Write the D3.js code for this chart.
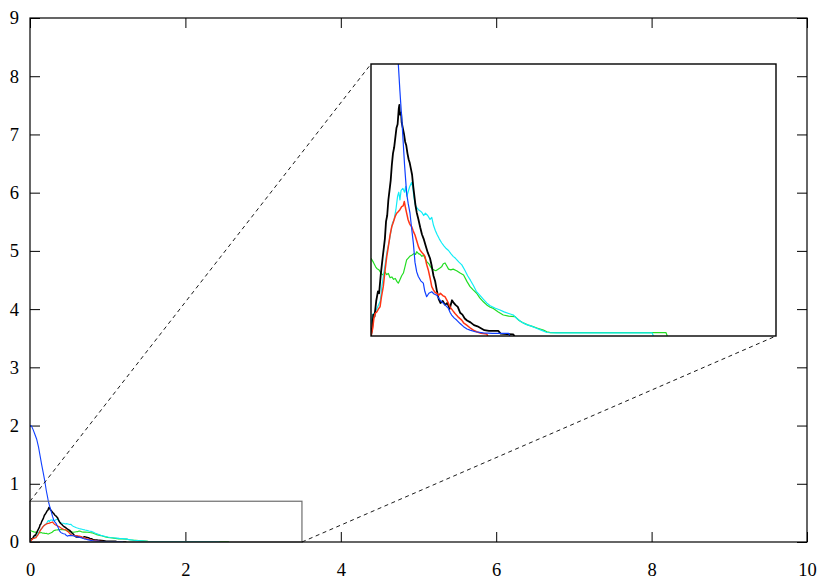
<!DOCTYPE html>
<html>
<head>
<meta charset="utf-8">
<script src="https://cdn.jsdelivr.net/npm/d3@7/dist/d3.min.js"></script>
<style>
  html, body { margin: 0; padding: 0; background: #fff; }
  svg { display: block; }
  .tick text { font-family: "Liberation Serif", "DejaVu Serif", serif; font-size: 18.5px; fill: #000; }
</style>
</head>
<body>
<svg id="chart" width="820" height="580"></svg>
<script>
// Axis tick values
const xTicks = [0, 2, 4, 6, 8, 10];
const yTicks = [0, 1, 2, 3, 4, 5, 6, 7, 8, 9];

// Zoomed window (data units) shown in the inset
const zoomX = [0, 3.5];
const zoomY = [0, 0.7];

// Series: [x, y] samples
const blueSeries = [
  [0,2.0],[0.02,1.99],[0.04,1.93],[0.06,1.86],[0.085,1.77],[0.11,1.63],[0.13,1.48],[0.15,1.33],
  [0.17,1.19],[0.19,1.05],[0.21,0.88],[0.225,0.78],[0.236,0.70],[0.25,0.63],[0.27,0.54],[0.29,0.44],
  [0.308,0.367],[0.322,0.34],[0.337,0.316],[0.35,0.28],[0.366,0.239],[0.38,0.19],[0.395,0.165],
  [0.409,0.153],[0.43,0.142],[0.452,0.136],[0.465,0.115],[0.481,0.101],[0.5,0.11],[0.525,0.114],
  [0.545,0.108],[0.568,0.105],[0.59,0.095],[0.611,0.088],[0.64,0.08],[0.669,0.071],[0.685,0.06],
  [0.697,0.054],[0.72,0.046],[0.74,0.041],[0.77,0.032],[0.8,0.024],[0.83,0.018],[0.856,0.015],
  [0.9,0.011],[0.97,0.008],[1.05,0.007],[1.19,0.007],[1.2,0]
];
const blackSeries = [
  [0,0],[0.01,0.02],[0.02,0.055],[0.03,0.05],[0.045,0.09],[0.06,0.115],[0.07,0.11],[0.085,0.16],
  [0.1,0.2],[0.11,0.225],[0.12,0.25],[0.13,0.295],[0.14,0.31],[0.15,0.35],[0.16,0.375],[0.17,0.40],
  [0.18,0.44],[0.19,0.47],[0.2,0.485],[0.21,0.51],[0.22,0.535],[0.23,0.545],[0.24,0.585],[0.245,0.595],
  [0.25,0.57],[0.26,0.575],[0.265,0.55],[0.275,0.535],[0.285,0.52],[0.295,0.5],[0.305,0.49],
  [0.315,0.47],[0.325,0.455],[0.335,0.445],[0.345,0.43],[0.355,0.415],[0.365,0.385],[0.375,0.36],
  [0.385,0.335],[0.395,0.318],[0.41,0.30],[0.425,0.28],[0.44,0.262],[0.455,0.25],[0.47,0.235],
  [0.49,0.215],[0.51,0.2],[0.525,0.18],[0.54,0.155],[0.555,0.14],[0.57,0.115],[0.585,0.095],
  [0.6,0.085],[0.62,0.09],[0.64,0.08],[0.66,0.085],[0.68,0.07],[0.70,0.092],[0.715,0.085],
  [0.73,0.08],[0.75,0.075],[0.77,0.06],[0.79,0.055],[0.81,0.045],[0.83,0.04],[0.86,0.035],
  [0.89,0.028],[0.92,0.025],[0.95,0.02],[0.98,0.015],[1.02,0.013],[1.1,0.013],[1.12,0.006],
  [1.23,0.004],[1.24,0]
];
const cyanSeries = [
  [0,0.03],[0.01,0.05],[0.02,0.058],[0.035,0.06],[0.05,0.07],[0.065,0.08],[0.08,0.09],[0.095,0.13],
  [0.11,0.16],[0.125,0.19],[0.14,0.22],[0.155,0.24],[0.17,0.265],[0.185,0.29],[0.2,0.30],[0.215,0.325],
  [0.23,0.36],[0.24,0.37],[0.25,0.35],[0.26,0.375],[0.275,0.38],[0.29,0.37],[0.3,0.385],[0.31,0.36],
  [0.32,0.37],[0.335,0.385],[0.35,0.395],[0.36,0.385],[0.37,0.36],[0.38,0.34],[0.395,0.33],
  [0.41,0.325],[0.425,0.322],[0.44,0.318],[0.455,0.31],[0.47,0.316],[0.49,0.31],[0.51,0.30],
  [0.525,0.305],[0.54,0.285],[0.555,0.272],[0.57,0.262],[0.59,0.25],[0.61,0.24],[0.63,0.232],
  [0.65,0.225],[0.67,0.22],[0.69,0.212],[0.71,0.205],[0.73,0.2],[0.76,0.19],[0.785,0.183],
  [0.81,0.17],[0.835,0.155],[0.86,0.143],[0.885,0.13],[0.91,0.115],[0.94,0.105],[0.97,0.095],
  [1.0,0.085],[1.03,0.078],[1.07,0.072],[1.115,0.067],[1.15,0.062],[1.19,0.058],[1.23,0.054],
  [1.26,0.045],[1.3,0.036],[1.34,0.03],[1.38,0.026],[1.43,0.02],[1.47,0.015],[1.52,0.009],
  [1.6,0.008],[2.43,0.008],[2.44,0]
];
const greenSeries = [
  [0,0.2],[0.02,0.19],[0.04,0.178],[0.05,0.174],[0.07,0.17],[0.09,0.16],[0.105,0.157],[0.12,0.165],
  [0.135,0.158],[0.15,0.161],[0.165,0.15],[0.18,0.152],[0.195,0.146],[0.21,0.148],[0.225,0.14],
  [0.236,0.136],[0.25,0.145],[0.265,0.155],[0.28,0.162],[0.295,0.18],[0.308,0.196],[0.32,0.2],
  [0.335,0.205],[0.352,0.208],[0.37,0.212],[0.385,0.21],[0.395,0.217],[0.41,0.212],[0.425,0.21],
  [0.44,0.205],[0.455,0.208],[0.47,0.198],[0.485,0.19],[0.5,0.186],[0.515,0.178],[0.53,0.172],
  [0.545,0.17],[0.56,0.168],[0.58,0.172],[0.596,0.175],[0.61,0.178],[0.625,0.186],[0.64,0.188],
  [0.655,0.18],[0.67,0.172],[0.69,0.17],[0.71,0.172],[0.74,0.168],[0.77,0.162],[0.8,0.157],
  [0.83,0.14],[0.856,0.127],[0.885,0.118],[0.913,0.11],[0.94,0.098],[0.971,0.088],[1.0,0.08],
  [1.03,0.074],[1.057,0.071],[1.1,0.062],[1.143,0.054],[1.19,0.051],[1.245,0.05],[1.28,0.04],
  [1.32,0.033],[1.36,0.028],[1.40,0.024],[1.44,0.02],[1.49,0.015],[1.52,0.011],[1.55,0.0085],
  [2.55,0.0085],[2.56,0]
];
const redSeries = [
  [0,0],[0.015,0.02],[0.025,0.045],[0.035,0.058],[0.05,0.062],[0.065,0.07],[0.078,0.075],[0.09,0.1],
  [0.106,0.127],[0.12,0.165],[0.136,0.204],[0.15,0.23],[0.165,0.26],[0.179,0.281],[0.19,0.29],
  [0.2,0.30],[0.212,0.31],[0.222,0.316],[0.235,0.32],[0.25,0.325],[0.265,0.333],[0.278,0.335],
  [0.288,0.346],[0.298,0.33],[0.308,0.316],[0.32,0.3],[0.332,0.29],[0.342,0.285],[0.352,0.281],
  [0.365,0.27],[0.38,0.26],[0.395,0.245],[0.41,0.23],[0.424,0.221],[0.44,0.215],[0.455,0.21],
  [0.467,0.204],[0.48,0.185],[0.495,0.17],[0.51,0.15],[0.525,0.127],[0.54,0.118],[0.555,0.112],
  [0.568,0.11],[0.585,0.105],[0.6,0.11],[0.62,0.104],[0.64,0.101],[0.66,0.09],[0.683,0.075],
  [0.705,0.066],[0.726,0.058],[0.75,0.05],[0.784,0.041],[0.8,0.034],[0.827,0.028],[0.86,0.02],
  [0.89,0.014],[0.913,0.011],[0.95,0.007],[1.0,0.005],[1.01,0]
];

const seriesList = [
  { name: "green", data: greenSeries, color: "#22dd22", width: 1.1 },
  { name: "cyan",  data: cyanSeries,  color: "#10ecf6", width: 1.1 },
  { name: "black", data: blackSeries, color: "#000000", width: 1.5 },
  { name: "red",   data: redSeries,   color: "#ff3414", width: 1.2 },
  { name: "blue",  data: blueSeries,  color: "#1040ff", width: 1.1 }
];

const svg = d3.select("#chart");

// Main plot area
const plot = { left: 30, right: 807, top: 18, bottom: 542 };
const x = d3.scaleLinear().domain([0, 10]).range([plot.left, plot.right]);
const y = d3.scaleLinear().domain([0, 9]).range([plot.bottom, plot.top]);

// Inset area
const inset = { left: 371, right: 776, top: 64, bottom: 336 };
const xi = d3.scaleLinear().domain(zoomX).range([inset.left, inset.right]);
const yi = d3.scaleLinear().domain(zoomY).range([inset.bottom, inset.top]);

const defs = svg.append("defs");
defs.append("clipPath").attr("id", "clip-main").append("rect")
  .attr("x", plot.left).attr("y", plot.top)
  .attr("width", plot.right - plot.left).attr("height", plot.bottom - plot.top);
defs.append("clipPath").attr("id", "clip-inset").append("rect")
  .attr("x", inset.left).attr("y", inset.top)
  .attr("width", inset.right - inset.left).attr("height", inset.bottom - inset.top);

// Inward ticks on all four sides
function styleAxis(g) {
  g.select(".domain").remove();
  g.selectAll(".tick line").attr("stroke", "#000").attr("stroke-width", 1);
}
svg.append("g").attr("transform", `translate(0,${plot.bottom})`)
  .call(d3.axisBottom(x).tickValues(xTicks).tickSizeInner(-10).tickSizeOuter(0).tickPadding(21).tickFormat(d3.format("d")))
  .call(styleAxis);
svg.append("g").attr("transform", `translate(0,${plot.top})`)
  .call(d3.axisTop(x).tickValues(xTicks).tickSizeInner(-10).tickSizeOuter(0).tickFormat(""))
  .call(styleAxis);
svg.append("g").attr("transform", `translate(${plot.left},0)`)
  .call(d3.axisLeft(y).tickValues(yTicks).tickSizeInner(-10).tickSizeOuter(0).tickPadding(11).tickFormat(d3.format("d")))
  .call(styleAxis);
svg.append("g").attr("transform", `translate(${plot.right},0)`)
  .call(d3.axisRight(y).tickValues(yTicks).tickSizeInner(-10).tickSizeOuter(0).tickFormat(""))
  .call(styleAxis);

// Curves in the main plot
const lineMain = d3.line().x(d => x(d[0])).y(d => y(d[1]));
const gMain = svg.append("g").attr("clip-path", "url(#clip-main)");
seriesList.forEach(s => {
  gMain.append("path").datum(s.data)
    .attr("d", lineMain)
    .attr("fill", "none")
    .attr("stroke", s.color)
    .attr("stroke-width", s.width)
    .attr("stroke-linejoin", "round");
});

// Zoom window outline in the main plot
svg.append("rect")
  .attr("x", x(zoomX[0])).attr("y", y(zoomY[1]))
  .attr("width", x(zoomX[1]) - x(zoomX[0]))
  .attr("height", y(zoomY[0]) - y(zoomY[1]))
  .attr("fill", "none").attr("stroke", "#6e6e6e").attr("stroke-width", 1.2);

// Connector lines from the zoom window to the inset
const connectors = [
  [[x(zoomX[0]), y(zoomY[1])], [inset.left, inset.top]],
  [[x(zoomX[1]), y(zoomY[0])], [inset.right, inset.bottom]]
];
svg.selectAll("line.connector").data(connectors).enter().append("line")
  .attr("class", "connector")
  .attr("x1", d => d[0][0]).attr("y1", d => d[0][1])
  .attr("x2", d => d[1][0]).attr("y2", d => d[1][1])
  .attr("stroke", "#000").attr("stroke-width", 0.9)
  .attr("stroke-dasharray", "4,3.5");

// Main plot frame
svg.append("rect")
  .attr("x", plot.left).attr("y", plot.top)
  .attr("width", plot.right - plot.left).attr("height", plot.bottom - plot.top)
  .attr("fill", "none").attr("stroke", "#000").attr("stroke-width", 1.2);

// Inset: white panel, curves, frame
svg.append("rect")
  .attr("x", inset.left).attr("y", inset.top)
  .attr("width", inset.right - inset.left).attr("height", inset.bottom - inset.top)
  .attr("fill", "#fff");
const lineInset = d3.line().x(d => xi(d[0])).y(d => yi(d[1]));
const gInset = svg.append("g").attr("clip-path", "url(#clip-inset)");
seriesList.forEach(s => {
  gInset.append("path").datum(s.data)
    .attr("d", lineInset)
    .attr("fill", "none")
    .attr("stroke", s.color)
    .attr("stroke-width", s.name === "black" ? 1.8 : (s.name === "red" ? 1.5 : 1.2))
    .attr("stroke-linejoin", "round");
});
svg.append("rect")
  .attr("x", inset.left).attr("y", inset.top)
  .attr("width", inset.right - inset.left).attr("height", inset.bottom - inset.top)
  .attr("fill", "none").attr("stroke", "#000").attr("stroke-width", 1.4);
</script>
</body>
</html>
